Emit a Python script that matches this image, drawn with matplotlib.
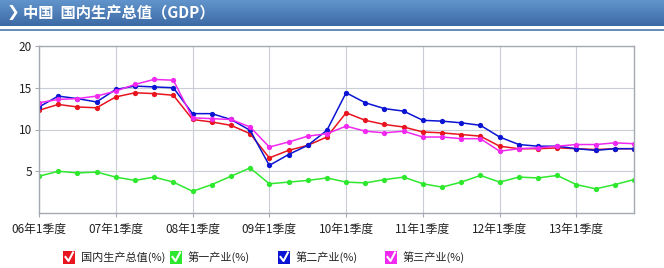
import matplotlib
matplotlib.use('Agg')
import matplotlib.pyplot as plt
import numpy as np
from matplotlib.patches import Rectangle
from matplotlib.lines import Line2D

plt.rcParams['font.family'] = ['Noto Sans CJK SC', 'DejaVu Sans']

# quarterly cumulative growth, 06Q1 .. 13Q4
quarters = [f"{y:02d}年{q}季度" for y in range(6, 14) for q in range(1, 5)]
gdp = [12.3, 13.0, 12.7, 12.6, 13.9, 14.4, 14.3, 14.1,
       11.2, 10.9, 10.5, 9.5, 6.6, 7.5, 8.1, 9.1,
       12.0, 11.1, 10.6, 10.3, 9.7, 9.6, 9.4, 9.2,
       8.0, 7.7, 7.7, 7.8, 7.7, 7.6, 7.7, 7.7]
primary = [4.4, 5.0, 4.8, 4.9, 4.3, 3.9, 4.3, 3.7,
           2.6, 3.4, 4.4, 5.4, 3.5, 3.7, 3.9, 4.2,
           3.7, 3.6, 4.0, 4.3, 3.5, 3.1, 3.7, 4.5,
           3.7, 4.3, 4.2, 4.5, 3.4, 2.9, 3.4, 4.0]
secondary = [12.7, 14.0, 13.7, 13.3, 14.8, 15.2, 15.1, 15.0,
             11.9, 11.9, 11.2, 9.9, 5.7, 7.0, 8.1, 9.9,
             14.4, 13.2, 12.5, 12.2, 11.1, 11.0, 10.8, 10.5,
             9.1, 8.2, 8.0, 8.0, 7.7, 7.5, 7.7, 7.7]
tertiary = [13.2, 13.6, 13.7, 14.0, 14.6, 15.4, 16.0, 15.9,
            11.4, 11.3, 11.2, 10.3, 7.9, 8.5, 9.2, 9.5,
            10.4, 9.8, 9.6, 9.8, 9.1, 9.1, 8.9, 8.9,
            7.4, 7.7, 7.8, 8.0, 8.2, 8.2, 8.4, 8.3]

series = [
    ("国内生产总值(%)", gdp, '#e8141e'),
    ("第一产业(%)", primary, '#2ee82e'),
    ("第二产业(%)", secondary, '#0a14d2'),
    ("第三产业(%)", tertiary, '#f028f0'),
]

W, H = 664, 268
fig = plt.figure(figsize=(W / 100, H / 100), dpi=100)

# title bar with gradient
bar_ax = fig.add_axes([0, 1 - 26 / H, 1, 26 / H])
grad = np.linspace(0, 1, 50).reshape(-1, 1)
top = np.array([0x62, 0x94, 0xcc]) / 255
bot = np.array([0x3c, 0x6a, 0xa4]) / 255
img = top + (bot - top) * grad[..., None]
bar_ax.imshow(img, aspect='auto', extent=[0, 1, 0, 1])
bar_ax.set_axis_off()
fig.add_artist(Line2D([0, 1], [1 - 29.5 / H] * 2, color='#4a78b0', lw=1.2))
fig.text(7 / W, 1 - 13 / H, "❯", color='white', fontsize=11, fontweight='bold',
         va='center', ha='left', family=['DejaVu Sans'])
fig.text(23 / W, 1 - 13 / H, "中国  国内生产总值（GDP）", color='white',
         fontsize=11, fontweight='bold', va='center', ha='left')

# main plot
left, right, topy, boty = 39, 634, 46, 213
ax = fig.add_axes([left / W, 1 - boty / H, (right - left) / W, (boty - topy) / H])
x = np.arange(len(quarters))
for name, vals, col in series:
    ax.plot(x, vals, color=col, lw=1.1, marker='o', markersize=3.8,
            markeredgewidth=0, label=name)

ax.set_xlim(0, len(quarters) - 1)
ax.set_ylim(0, 20)
ax.set_yticks([5, 10, 15, 20])
ax.set_yticklabels(['5', '10', '15', '20'])
ax.set_xticks(x[::4])
ax.set_xticklabels(quarters[::4])
ax.grid(True, color='#c9ced6', lw=0.8)
ax.set_axisbelow(True)
for s in ax.spines.values():
    s.set_color('#a4a9b2')
    s.set_linewidth(1.0)
ax.tick_params(axis='both', length=3, color='#a4a9b2', labelsize=8.5,
               labelcolor='#222222', pad=2)
ax.tick_params(axis='x', pad=4)

# legend with checkbox icons
legend_x = [63, 170, 278, 385]
for (name, vals, col), lx in zip(series, legend_x):
    y0 = 1 - 264 / H
    fig.add_artist(Rectangle((lx / W, y0), 12 / W, 13 / H, facecolor=col,
                             edgecolor='none', transform=fig.transFigure))
    fig.add_artist(Line2D([(lx + 2.5) / W, (lx + 5.5) / W, (lx + 10) / W],
                          [y0 + 7 / H, y0 + 3 / H, y0 + 11.5 / H],
                          color='white', lw=1.5, transform=fig.transFigure))
    fig.text((lx + 18) / W, 1 - 257.5 / H, name, fontsize=8, va='center',
             ha='left', color='#222222')

fig.savefig('out.png', dpi=100, facecolor='white')
